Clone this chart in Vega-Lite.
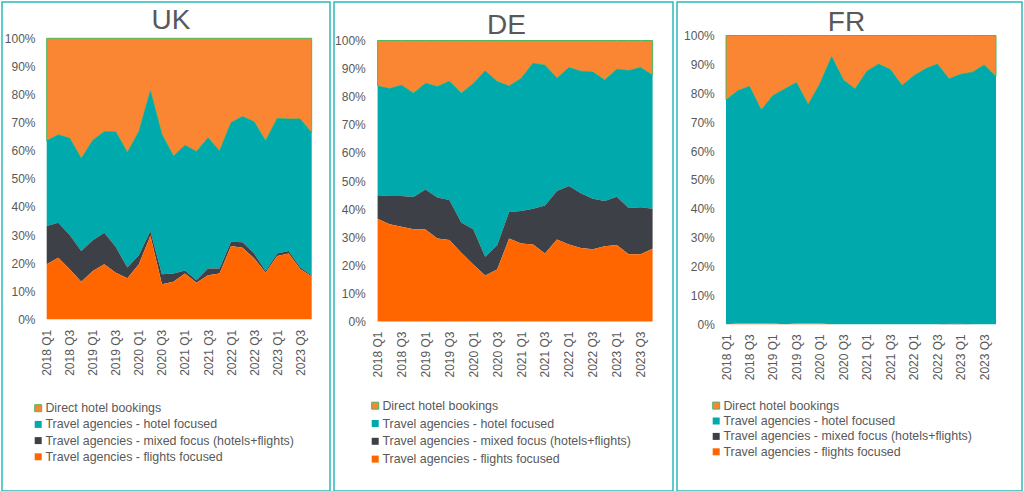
{
  "$schema": "https://vega.github.io/schema/vega-lite/v6.json",
  "background": "white",
  "padding": {"left": 1, "top": 1, "right": 0, "bottom": 0},
  "config": {
    "view": {"stroke": "#2DB8B8", "strokeWidth": 1.5},
    "font": "Liberation Sans",
    "axis": {"grid": false, "ticks": false, "tickSize": 0, "domain": false, "labelFont": "Liberation Sans", "labelFontSize": 12, "labelColor": "#595959", "title": null},
    "title": {"font": "Liberation Sans", "fontSize": 28, "fontWeight": "normal", "color": "#595959", "anchor": "middle", "frame": "group"},
    "legend": {"orient": "none", "title": null, "symbolType": "square", "symbolSize": 49, "symbolStrokeWidth": 1, "labelFont": "Liberation Sans", "labelFontSize": 12.4, "labelColor": "#595959", "labelLimit": 400, "padding": 0, "labelOffset": 1, "rowPadding": 3.2}
  },
  "datasets": {
    "UK": [
      {"quarter":"2018 Q1","series":"Direct hotel bookings","share":36.5},{"quarter":"2018 Q1","series":"Travel agencies - hotel focused","share":30.3},{"quarter":"2018 Q1","series":"Travel agencies - mixed focus (hotels+flights)","share":13.6},{"quarter":"2018 Q1","series":"Travel agencies - flights focused","share":19.6},
      {"quarter":"2018 Q2","series":"Direct hotel bookings","share":34.3},{"quarter":"2018 Q2","series":"Travel agencies - hotel focused","share":31.3},{"quarter":"2018 Q2","series":"Travel agencies - mixed focus (hotels+flights)","share":12.5},{"quarter":"2018 Q2","series":"Travel agencies - flights focused","share":21.9},
      {"quarter":"2018 Q3","series":"Direct hotel bookings","share":35.6},{"quarter":"2018 Q3","series":"Travel agencies - hotel focused","share":34.4},{"quarter":"2018 Q3","series":"Travel agencies - mixed focus (hotels+flights)","share":12.2},{"quarter":"2018 Q3","series":"Travel agencies - flights focused","share":17.8},
      {"quarter":"2018 Q4","series":"Direct hotel bookings","share":42.8},{"quarter":"2018 Q4","series":"Travel agencies - hotel focused","share":32.9},{"quarter":"2018 Q4","series":"Travel agencies - mixed focus (hotels+flights)","share":10.9},{"quarter":"2018 Q4","series":"Travel agencies - flights focused","share":13.4},
      {"quarter":"2019 Q1","series":"Direct hotel bookings","share":36.3},{"quarter":"2019 Q1","series":"Travel agencies - hotel focused","share":35.6},{"quarter":"2019 Q1","series":"Travel agencies - mixed focus (hotels+flights)","share":10.9},{"quarter":"2019 Q1","series":"Travel agencies - flights focused","share":17.2},
      {"quarter":"2019 Q2","series":"Direct hotel bookings","share":33.2},{"quarter":"2019 Q2","series":"Travel agencies - hotel focused","share":36.0},{"quarter":"2019 Q2","series":"Travel agencies - mixed focus (hotels+flights)","share":11.2},{"quarter":"2019 Q2","series":"Travel agencies - flights focused","share":19.6},
      {"quarter":"2019 Q3","series":"Direct hotel bookings","share":33.3},{"quarter":"2019 Q3","series":"Travel agencies - hotel focused","share":41.0},{"quarter":"2019 Q3","series":"Travel agencies - mixed focus (hotels+flights)","share":9.1},{"quarter":"2019 Q3","series":"Travel agencies - flights focused","share":16.6},
      {"quarter":"2019 Q4","series":"Direct hotel bookings","share":40.6},{"quarter":"2019 Q4","series":"Travel agencies - hotel focused","share":41.0},{"quarter":"2019 Q4","series":"Travel agencies - mixed focus (hotels+flights)","share":3.8},{"quarter":"2019 Q4","series":"Travel agencies - flights focused","share":14.6},
      {"quarter":"2020 Q1","series":"Direct hotel bookings","share":33.2},{"quarter":"2020 Q1","series":"Travel agencies - hotel focused","share":44.0},{"quarter":"2020 Q1","series":"Travel agencies - mixed focus (hotels+flights)","share":3.2},{"quarter":"2020 Q1","series":"Travel agencies - flights focused","share":19.6},
      {"quarter":"2020 Q2","series":"Direct hotel bookings","share":18.7},{"quarter":"2020 Q2","series":"Travel agencies - hotel focused","share":49.9},{"quarter":"2020 Q2","series":"Travel agencies - mixed focus (hotels+flights)","share":1.7},{"quarter":"2020 Q2","series":"Travel agencies - flights focused","share":29.7},
      {"quarter":"2020 Q3","series":"Direct hotel bookings","share":34.2},{"quarter":"2020 Q3","series":"Travel agencies - hotel focused","share":49.8},{"quarter":"2020 Q3","series":"Travel agencies - mixed focus (hotels+flights)","share":3.5},{"quarter":"2020 Q3","series":"Travel agencies - flights focused","share":12.5},
      {"quarter":"2020 Q4","series":"Direct hotel bookings","share":41.9},{"quarter":"2020 Q4","series":"Travel agencies - hotel focused","share":41.8},{"quarter":"2020 Q4","series":"Travel agencies - mixed focus (hotels+flights)","share":2.9},{"quarter":"2020 Q4","series":"Travel agencies - flights focused","share":13.4},
      {"quarter":"2021 Q1","series":"Direct hotel bookings","share":38.1},{"quarter":"2021 Q1","series":"Travel agencies - hotel focused","share":44.5},{"quarter":"2021 Q1","series":"Travel agencies - mixed focus (hotels+flights)","share":1.1},{"quarter":"2021 Q1","series":"Travel agencies - flights focused","share":16.3},
      {"quarter":"2021 Q2","series":"Direct hotel bookings","share":40.3},{"quarter":"2021 Q2","series":"Travel agencies - hotel focused","share":45.8},{"quarter":"2021 Q2","series":"Travel agencies - mixed focus (hotels+flights)","share":0.9},{"quarter":"2021 Q2","series":"Travel agencies - flights focused","share":13.0},
      {"quarter":"2021 Q3","series":"Direct hotel bookings","share":35.4},{"quarter":"2021 Q3","series":"Travel agencies - hotel focused","share":46.5},{"quarter":"2021 Q3","series":"Travel agencies - mixed focus (hotels+flights)","share":2.4},{"quarter":"2021 Q3","series":"Travel agencies - flights focused","share":15.7},
      {"quarter":"2021 Q4","series":"Direct hotel bookings","share":40.1},{"quarter":"2021 Q4","series":"Travel agencies - hotel focused","share":41.8},{"quarter":"2021 Q4","series":"Travel agencies - mixed focus (hotels+flights)","share":1.8},{"quarter":"2021 Q4","series":"Travel agencies - flights focused","share":16.3},
      {"quarter":"2022 Q1","series":"Direct hotel bookings","share":30.0},{"quarter":"2022 Q1","series":"Travel agencies - hotel focused","share":42.4},{"quarter":"2022 Q1","series":"Travel agencies - mixed focus (hotels+flights)","share":1.5},{"quarter":"2022 Q1","series":"Travel agencies - flights focused","share":26.1},
      {"quarter":"2022 Q2","series":"Direct hotel bookings","share":27.8},{"quarter":"2022 Q2","series":"Travel agencies - hotel focused","share":44.8},{"quarter":"2022 Q2","series":"Travel agencies - mixed focus (hotels+flights)","share":1.9},{"quarter":"2022 Q2","series":"Travel agencies - flights focused","share":25.5},
      {"quarter":"2022 Q3","series":"Direct hotel bookings","share":29.7},{"quarter":"2022 Q3","series":"Travel agencies - hotel focused","share":46.9},{"quarter":"2022 Q3","series":"Travel agencies - mixed focus (hotels+flights)","share":1.7},{"quarter":"2022 Q3","series":"Travel agencies - flights focused","share":21.7},
      {"quarter":"2022 Q4","series":"Direct hotel bookings","share":36.5},{"quarter":"2022 Q4","series":"Travel agencies - hotel focused","share":46.3},{"quarter":"2022 Q4","series":"Travel agencies - mixed focus (hotels+flights)","share":0.6},{"quarter":"2022 Q4","series":"Travel agencies - flights focused","share":16.6},
      {"quarter":"2023 Q1","series":"Direct hotel bookings","share":28.5},{"quarter":"2023 Q1","series":"Travel agencies - hotel focused","share":48.1},{"quarter":"2023 Q1","series":"Travel agencies - mixed focus (hotels+flights)","share":0.9},{"quarter":"2023 Q1","series":"Travel agencies - flights focused","share":22.5},
      {"quarter":"2023 Q2","series":"Direct hotel bookings","share":28.7},{"quarter":"2023 Q2","series":"Travel agencies - hotel focused","share":47.0},{"quarter":"2023 Q2","series":"Travel agencies - mixed focus (hotels+flights)","share":0.9},{"quarter":"2023 Q2","series":"Travel agencies - flights focused","share":23.4},
      {"quarter":"2023 Q3","series":"Direct hotel bookings","share":28.7},{"quarter":"2023 Q3","series":"Travel agencies - hotel focused","share":52.8},{"quarter":"2023 Q3","series":"Travel agencies - mixed focus (hotels+flights)","share":0.6},{"quarter":"2023 Q3","series":"Travel agencies - flights focused","share":17.9},
      {"quarter":"2023 Q4","series":"Direct hotel bookings","share":33.6},{"quarter":"2023 Q4","series":"Travel agencies - hotel focused","share":50.8},{"quarter":"2023 Q4","series":"Travel agencies - mixed focus (hotels+flights)","share":0.4},{"quarter":"2023 Q4","series":"Travel agencies - flights focused","share":15.2}
    ],
    "DE": [
      {"quarter":"2018 Q1","series":"Direct hotel bookings","share":16.2},{"quarter":"2018 Q1","series":"Travel agencies - hotel focused","share":38.9},{"quarter":"2018 Q1","series":"Travel agencies - mixed focus (hotels+flights)","share":8.3},{"quarter":"2018 Q1","series":"Travel agencies - flights focused","share":36.6},
      {"quarter":"2018 Q2","series":"Direct hotel bookings","share":17.1},{"quarter":"2018 Q2","series":"Travel agencies - hotel focused","share":38.2},{"quarter":"2018 Q2","series":"Travel agencies - mixed focus (hotels+flights)","share":10.1},{"quarter":"2018 Q2","series":"Travel agencies - flights focused","share":34.6},
      {"quarter":"2018 Q3","series":"Direct hotel bookings","share":15.9},{"quarter":"2018 Q3","series":"Travel agencies - hotel focused","share":39.4},{"quarter":"2018 Q3","series":"Travel agencies - mixed focus (hotels+flights)","share":11.0},{"quarter":"2018 Q3","series":"Travel agencies - flights focused","share":33.7},
      {"quarter":"2018 Q4","series":"Direct hotel bookings","share":18.8},{"quarter":"2018 Q4","series":"Travel agencies - hotel focused","share":36.9},{"quarter":"2018 Q4","series":"Travel agencies - mixed focus (hotels+flights)","share":11.5},{"quarter":"2018 Q4","series":"Travel agencies - flights focused","share":32.8},
      {"quarter":"2019 Q1","series":"Direct hotel bookings","share":15.2},{"quarter":"2019 Q1","series":"Travel agencies - hotel focused","share":37.8},{"quarter":"2019 Q1","series":"Travel agencies - mixed focus (hotels+flights)","share":14.3},{"quarter":"2019 Q1","series":"Travel agencies - flights focused","share":32.7},
      {"quarter":"2019 Q2","series":"Direct hotel bookings","share":16.4},{"quarter":"2019 Q2","series":"Travel agencies - hotel focused","share":39.5},{"quarter":"2019 Q2","series":"Travel agencies - mixed focus (hotels+flights)","share":14.6},{"quarter":"2019 Q2","series":"Travel agencies - flights focused","share":29.5},
      {"quarter":"2019 Q3","series":"Direct hotel bookings","share":14.5},{"quarter":"2019 Q3","series":"Travel agencies - hotel focused","share":42.3},{"quarter":"2019 Q3","series":"Travel agencies - mixed focus (hotels+flights)","share":14.2},{"quarter":"2019 Q3","series":"Travel agencies - flights focused","share":29.0},
      {"quarter":"2019 Q4","series":"Direct hotel bookings","share":18.8},{"quarter":"2019 Q4","series":"Travel agencies - hotel focused","share":46.0},{"quarter":"2019 Q4","series":"Travel agencies - mixed focus (hotels+flights)","share":10.7},{"quarter":"2019 Q4","series":"Travel agencies - flights focused","share":24.5},
      {"quarter":"2020 Q1","series":"Direct hotel bookings","share":15.3},{"quarter":"2020 Q1","series":"Travel agencies - hotel focused","share":51.9},{"quarter":"2020 Q1","series":"Travel agencies - mixed focus (hotels+flights)","share":12.5},{"quarter":"2020 Q1","series":"Travel agencies - flights focused","share":20.3},
      {"quarter":"2020 Q2","series":"Direct hotel bookings","share":10.8},{"quarter":"2020 Q2","series":"Travel agencies - hotel focused","share":66.2},{"quarter":"2020 Q2","series":"Travel agencies - mixed focus (hotels+flights)","share":6.6},{"quarter":"2020 Q2","series":"Travel agencies - flights focused","share":16.4},
      {"quarter":"2020 Q3","series":"Direct hotel bookings","share":14.6},{"quarter":"2020 Q3","series":"Travel agencies - hotel focused","share":58.3},{"quarter":"2020 Q3","series":"Travel agencies - mixed focus (hotels+flights)","share":8.6},{"quarter":"2020 Q3","series":"Travel agencies - flights focused","share":18.5},
      {"quarter":"2020 Q4","series":"Direct hotel bookings","share":16.2},{"quarter":"2020 Q4","series":"Travel agencies - hotel focused","share":44.8},{"quarter":"2020 Q4","series":"Travel agencies - mixed focus (hotels+flights)","share":9.5},{"quarter":"2020 Q4","series":"Travel agencies - flights focused","share":29.5},
      {"quarter":"2021 Q1","series":"Direct hotel bookings","share":13.5},{"quarter":"2021 Q1","series":"Travel agencies - hotel focused","share":47.2},{"quarter":"2021 Q1","series":"Travel agencies - mixed focus (hotels+flights)","share":11.5},{"quarter":"2021 Q1","series":"Travel agencies - flights focused","share":27.8},
      {"quarter":"2021 Q2","series":"Direct hotel bookings","share":8.1},{"quarter":"2021 Q2","series":"Travel agencies - hotel focused","share":51.8},{"quarter":"2021 Q2","series":"Travel agencies - mixed focus (hotels+flights)","share":12.7},{"quarter":"2021 Q2","series":"Travel agencies - flights focused","share":27.4},
      {"quarter":"2021 Q3","series":"Direct hotel bookings","share":8.8},{"quarter":"2021 Q3","series":"Travel agencies - hotel focused","share":49.9},{"quarter":"2021 Q3","series":"Travel agencies - mixed focus (hotels+flights)","share":17.1},{"quarter":"2021 Q3","series":"Travel agencies - flights focused","share":24.2},
      {"quarter":"2021 Q4","series":"Direct hotel bookings","share":13.4},{"quarter":"2021 Q4","series":"Travel agencies - hotel focused","share":40.2},{"quarter":"2021 Q4","series":"Travel agencies - mixed focus (hotels+flights)","share":17.2},{"quarter":"2021 Q4","series":"Travel agencies - flights focused","share":29.2},
      {"quarter":"2022 Q1","series":"Direct hotel bookings","share":9.6},{"quarter":"2022 Q1","series":"Travel agencies - hotel focused","share":42.2},{"quarter":"2022 Q1","series":"Travel agencies - mixed focus (hotels+flights)","share":20.8},{"quarter":"2022 Q1","series":"Travel agencies - flights focused","share":27.4},
      {"quarter":"2022 Q2","series":"Direct hotel bookings","share":10.9},{"quarter":"2022 Q2","series":"Travel agencies - hotel focused","share":43.5},{"quarter":"2022 Q2","series":"Travel agencies - mixed focus (hotels+flights)","share":19.4},{"quarter":"2022 Q2","series":"Travel agencies - flights focused","share":26.2},
      {"quarter":"2022 Q3","series":"Direct hotel bookings","share":11.2},{"quarter":"2022 Q3","series":"Travel agencies - hotel focused","share":45.1},{"quarter":"2022 Q3","series":"Travel agencies - mixed focus (hotels+flights)","share":18.0},{"quarter":"2022 Q3","series":"Travel agencies - flights focused","share":25.7},
      {"quarter":"2022 Q4","series":"Direct hotel bookings","share":14.1},{"quarter":"2022 Q4","series":"Travel agencies - hotel focused","share":43.0},{"quarter":"2022 Q4","series":"Travel agencies - mixed focus (hotels+flights)","share":16.1},{"quarter":"2022 Q4","series":"Travel agencies - flights focused","share":26.8},
      {"quarter":"2023 Q1","series":"Direct hotel bookings","share":10.2},{"quarter":"2023 Q1","series":"Travel agencies - hotel focused","share":45.4},{"quarter":"2023 Q1","series":"Travel agencies - mixed focus (hotels+flights)","share":17.2},{"quarter":"2023 Q1","series":"Travel agencies - flights focused","share":27.2},
      {"quarter":"2023 Q2","series":"Direct hotel bookings","share":10.7},{"quarter":"2023 Q2","series":"Travel agencies - hotel focused","share":48.9},{"quarter":"2023 Q2","series":"Travel agencies - mixed focus (hotels+flights)","share":16.5},{"quarter":"2023 Q2","series":"Travel agencies - flights focused","share":23.9},
      {"quarter":"2023 Q3","series":"Direct hotel bookings","share":9.6},{"quarter":"2023 Q3","series":"Travel agencies - hotel focused","share":49.7},{"quarter":"2023 Q3","series":"Travel agencies - mixed focus (hotels+flights)","share":16.8},{"quarter":"2023 Q3","series":"Travel agencies - flights focused","share":23.9},
      {"quarter":"2023 Q4","series":"Direct hotel bookings","share":12.4},{"quarter":"2023 Q4","series":"Travel agencies - hotel focused","share":47.5},{"quarter":"2023 Q4","series":"Travel agencies - mixed focus (hotels+flights)","share":14.2},{"quarter":"2023 Q4","series":"Travel agencies - flights focused","share":25.9}
    ],
    "FR": [
      {"quarter":"2018 Q1","series":"Direct hotel bookings","share":22.3},{"quarter":"2018 Q1","series":"Travel agencies - hotel focused","share":77.7},{"quarter":"2018 Q1","series":"Travel agencies - mixed focus (hotels+flights)","share":0},{"quarter":"2018 Q1","series":"Travel agencies - flights focused","share":0},
      {"quarter":"2018 Q2","series":"Direct hotel bookings","share":19.1},{"quarter":"2018 Q2","series":"Travel agencies - hotel focused","share":80.6},{"quarter":"2018 Q2","series":"Travel agencies - mixed focus (hotels+flights)","share":0},{"quarter":"2018 Q2","series":"Travel agencies - flights focused","share":0.3},
      {"quarter":"2018 Q3","series":"Direct hotel bookings","share":17.6},{"quarter":"2018 Q3","series":"Travel agencies - hotel focused","share":82.1},{"quarter":"2018 Q3","series":"Travel agencies - mixed focus (hotels+flights)","share":0},{"quarter":"2018 Q3","series":"Travel agencies - flights focused","share":0.3},
      {"quarter":"2018 Q4","series":"Direct hotel bookings","share":25.8},{"quarter":"2018 Q4","series":"Travel agencies - hotel focused","share":73.9},{"quarter":"2018 Q4","series":"Travel agencies - mixed focus (hotels+flights)","share":0},{"quarter":"2018 Q4","series":"Travel agencies - flights focused","share":0.3},
      {"quarter":"2019 Q1","series":"Direct hotel bookings","share":20.8},{"quarter":"2019 Q1","series":"Travel agencies - hotel focused","share":78.9},{"quarter":"2019 Q1","series":"Travel agencies - mixed focus (hotels+flights)","share":0},{"quarter":"2019 Q1","series":"Travel agencies - flights focused","share":0.3},
      {"quarter":"2019 Q2","series":"Direct hotel bookings","share":18.5},{"quarter":"2019 Q2","series":"Travel agencies - hotel focused","share":81.5},{"quarter":"2019 Q2","series":"Travel agencies - mixed focus (hotels+flights)","share":0},{"quarter":"2019 Q2","series":"Travel agencies - flights focused","share":0},
      {"quarter":"2019 Q3","series":"Direct hotel bookings","share":16.3},{"quarter":"2019 Q3","series":"Travel agencies - hotel focused","share":83.4},{"quarter":"2019 Q3","series":"Travel agencies - mixed focus (hotels+flights)","share":0},{"quarter":"2019 Q3","series":"Travel agencies - flights focused","share":0.3},
      {"quarter":"2019 Q4","series":"Direct hotel bookings","share":23.9},{"quarter":"2019 Q4","series":"Travel agencies - hotel focused","share":75.8},{"quarter":"2019 Q4","series":"Travel agencies - mixed focus (hotels+flights)","share":0},{"quarter":"2019 Q4","series":"Travel agencies - flights focused","share":0.3},
      {"quarter":"2020 Q1","series":"Direct hotel bookings","share":16.7},{"quarter":"2020 Q1","series":"Travel agencies - hotel focused","share":83.0},{"quarter":"2020 Q1","series":"Travel agencies - mixed focus (hotels+flights)","share":0},{"quarter":"2020 Q1","series":"Travel agencies - flights focused","share":0.3},
      {"quarter":"2020 Q2","series":"Direct hotel bookings","share":7.3},{"quarter":"2020 Q2","series":"Travel agencies - hotel focused","share":92.7},{"quarter":"2020 Q2","series":"Travel agencies - mixed focus (hotels+flights)","share":0},{"quarter":"2020 Q2","series":"Travel agencies - flights focused","share":0},
      {"quarter":"2020 Q3","series":"Direct hotel bookings","share":15.4},{"quarter":"2020 Q3","series":"Travel agencies - hotel focused","share":84.6},{"quarter":"2020 Q3","series":"Travel agencies - mixed focus (hotels+flights)","share":0},{"quarter":"2020 Q3","series":"Travel agencies - flights focused","share":0},
      {"quarter":"2020 Q4","series":"Direct hotel bookings","share":18.5},{"quarter":"2020 Q4","series":"Travel agencies - hotel focused","share":81.5},{"quarter":"2020 Q4","series":"Travel agencies - mixed focus (hotels+flights)","share":0},{"quarter":"2020 Q4","series":"Travel agencies - flights focused","share":0},
      {"quarter":"2021 Q1","series":"Direct hotel bookings","share":12.4},{"quarter":"2021 Q1","series":"Travel agencies - hotel focused","share":87.6},{"quarter":"2021 Q1","series":"Travel agencies - mixed focus (hotels+flights)","share":0},{"quarter":"2021 Q1","series":"Travel agencies - flights focused","share":0},
      {"quarter":"2021 Q2","series":"Direct hotel bookings","share":9.9},{"quarter":"2021 Q2","series":"Travel agencies - hotel focused","share":90.1},{"quarter":"2021 Q2","series":"Travel agencies - mixed focus (hotels+flights)","share":0},{"quarter":"2021 Q2","series":"Travel agencies - flights focused","share":0},
      {"quarter":"2021 Q3","series":"Direct hotel bookings","share":11.8},{"quarter":"2021 Q3","series":"Travel agencies - hotel focused","share":88.2},{"quarter":"2021 Q3","series":"Travel agencies - mixed focus (hotels+flights)","share":0},{"quarter":"2021 Q3","series":"Travel agencies - flights focused","share":0},
      {"quarter":"2021 Q4","series":"Direct hotel bookings","share":17.3},{"quarter":"2021 Q4","series":"Travel agencies - hotel focused","share":82.7},{"quarter":"2021 Q4","series":"Travel agencies - mixed focus (hotels+flights)","share":0},{"quarter":"2021 Q4","series":"Travel agencies - flights focused","share":0},
      {"quarter":"2022 Q1","series":"Direct hotel bookings","share":13.9},{"quarter":"2022 Q1","series":"Travel agencies - hotel focused","share":86.1},{"quarter":"2022 Q1","series":"Travel agencies - mixed focus (hotels+flights)","share":0},{"quarter":"2022 Q1","series":"Travel agencies - flights focused","share":0},
      {"quarter":"2022 Q2","series":"Direct hotel bookings","share":11.5},{"quarter":"2022 Q2","series":"Travel agencies - hotel focused","share":88.5},{"quarter":"2022 Q2","series":"Travel agencies - mixed focus (hotels+flights)","share":0},{"quarter":"2022 Q2","series":"Travel agencies - flights focused","share":0},
      {"quarter":"2022 Q3","series":"Direct hotel bookings","share":9.9},{"quarter":"2022 Q3","series":"Travel agencies - hotel focused","share":90.1},{"quarter":"2022 Q3","series":"Travel agencies - mixed focus (hotels+flights)","share":0},{"quarter":"2022 Q3","series":"Travel agencies - flights focused","share":0},
      {"quarter":"2022 Q4","series":"Direct hotel bookings","share":15.0},{"quarter":"2022 Q4","series":"Travel agencies - hotel focused","share":84.8},{"quarter":"2022 Q4","series":"Travel agencies - mixed focus (hotels+flights)","share":0.2},{"quarter":"2022 Q4","series":"Travel agencies - flights focused","share":0},
      {"quarter":"2023 Q1","series":"Direct hotel bookings","share":13.4},{"quarter":"2023 Q1","series":"Travel agencies - hotel focused","share":86.4},{"quarter":"2023 Q1","series":"Travel agencies - mixed focus (hotels+flights)","share":0.2},{"quarter":"2023 Q1","series":"Travel agencies - flights focused","share":0},
      {"quarter":"2023 Q2","series":"Direct hotel bookings","share":12.7},{"quarter":"2023 Q2","series":"Travel agencies - hotel focused","share":87.3},{"quarter":"2023 Q2","series":"Travel agencies - mixed focus (hotels+flights)","share":0},{"quarter":"2023 Q2","series":"Travel agencies - flights focused","share":0},
      {"quarter":"2023 Q3","series":"Direct hotel bookings","share":10.2},{"quarter":"2023 Q3","series":"Travel agencies - hotel focused","share":89.8},{"quarter":"2023 Q3","series":"Travel agencies - mixed focus (hotels+flights)","share":0},{"quarter":"2023 Q3","series":"Travel agencies - flights focused","share":0},
      {"quarter":"2023 Q4","series":"Direct hotel bookings","share":14.2},{"quarter":"2023 Q4","series":"Travel agencies - hotel focused","share":85.8},{"quarter":"2023 Q4","series":"Travel agencies - mixed focus (hotels+flights)","share":0},{"quarter":"2023 Q4","series":"Travel agencies - flights focused","share":0}
    ]
  },
  "hconcat": [
    {
      "width": 328, "height": 489,
      "data": {"name": "UK"},
      "transform": [{"calculate": "indexof(['Travel agencies - flights focused','Travel agencies - mixed focus (hotels+flights)','Travel agencies - hotel focused','Direct hotel bookings'], datum.series)", "as": "stack_rank"}],
      "title": {"text": "UK", "dx": 5, "offset": -33},
      "mark": {"type": "area", "strokeWidth": 1, "opacity": 1},
      "encoding": {
        "x": {"field": "quarter", "type": "ordinal", "sort": null, "scale": {"type": "point", "padding": 0, "range": [44.7, 309.7]},
              "axis": {"values": ["2018 Q1","2018 Q3","2019 Q1","2019 Q3","2020 Q1","2020 Q3","2021 Q1","2021 Q3","2022 Q1","2022 Q3","2023 Q1","2023 Q3"], "labelAngle": -90, "offset": -171.7, "labelPadding": 10}},
        "y": {"field": "share", "type": "quantitative", "stack": "zero", "scale": {"domain": [0, 100], "range": [317.3, 36.3], "nice": false, "zero": false},
              "axis": {"values": [0,10,20,30,40,50,60,70,80,90,100], "labelExpr": "datum.value + '%'", "offset": -37, "labelPadding": 4}},
        "order": {"field": "stack_rank", "type": "quantitative", "sort": "ascending"},
        "color": {"field": "series", "type": "nominal", "sort": ["Direct hotel bookings","Travel agencies - hotel focused","Travel agencies - mixed focus (hotels+flights)","Travel agencies - flights focused"],
                  "scale": {"domain": ["Direct hotel bookings","Travel agencies - hotel focused","Travel agencies - mixed focus (hotels+flights)","Travel agencies - flights focused"], "range": ["#FA8633","#00A9AB","#3D4047","#FF6600"]},
                  "legend": {"legendX": 30, "legendY": 400, "rowPadding": 3.2}},
        "stroke": {"field": "series", "type": "nominal", "sort": ["Direct hotel bookings","Travel agencies - hotel focused","Travel agencies - mixed focus (hotels+flights)","Travel agencies - flights focused"],
                  "scale": {"domain": ["Direct hotel bookings","Travel agencies - hotel focused","Travel agencies - mixed focus (hotels+flights)","Travel agencies - flights focused"], "range": ["#4DB85F","transparent","transparent","transparent"]},
                  "legend": {"legendX": 30, "legendY": 400, "rowPadding": 3.2}}
      }
    },
    {
      "width": 339, "height": 489,
      "data": {"name": "DE"},
      "transform": [{"calculate": "indexof(['Travel agencies - flights focused','Travel agencies - mixed focus (hotels+flights)','Travel agencies - hotel focused','Direct hotel bookings'], datum.series)", "as": "stack_rank"}],
      "title": {"text": "DE", "dx": 3, "offset": -38},
      "mark": {"type": "area", "strokeWidth": 1, "opacity": 1},
      "encoding": {
        "x": {"field": "quarter", "type": "ordinal", "sort": null, "scale": {"type": "point", "padding": 0, "range": [43.6, 318.6]},
              "axis": {"values": ["2018 Q1","2018 Q3","2019 Q1","2019 Q3","2020 Q1","2020 Q3","2021 Q1","2021 Q3","2022 Q1","2022 Q3","2023 Q1","2023 Q3"], "labelAngle": -90, "offset": -169.5, "labelPadding": 9.5}},
        "y": {"field": "share", "type": "quantitative", "stack": "zero", "scale": {"domain": [0, 100], "range": [319.5, 38.5], "nice": false, "zero": false},
              "axis": {"values": [0,10,20,30,40,50,60,70,80,90,100], "labelExpr": "datum.value + '%'", "offset": -35.3, "labelPadding": 4}},
        "order": {"field": "stack_rank", "type": "quantitative", "sort": "ascending"},
        "color": {"field": "series", "type": "nominal", "sort": ["Direct hotel bookings","Travel agencies - hotel focused","Travel agencies - mixed focus (hotels+flights)","Travel agencies - flights focused"],
                  "scale": {"domain": ["Direct hotel bookings","Travel agencies - hotel focused","Travel agencies - mixed focus (hotels+flights)","Travel agencies - flights focused"], "range": ["#FA8633","#00A9AB","#3D4047","#FF6600"]},
                  "legend": {"legendX": 35, "legendY": 397.5, "rowPadding": 4.8}},
        "stroke": {"field": "series", "type": "nominal", "sort": ["Direct hotel bookings","Travel agencies - hotel focused","Travel agencies - mixed focus (hotels+flights)","Travel agencies - flights focused"],
                  "scale": {"domain": ["Direct hotel bookings","Travel agencies - hotel focused","Travel agencies - mixed focus (hotels+flights)","Travel agencies - flights focused"], "range": ["#4DB85F","transparent","transparent","transparent"]},
                  "legend": {"legendX": 35, "legendY": 397.5, "rowPadding": 4.8}}
      }
    },
    {
      "width": 345, "height": 489,
      "data": {"name": "FR"},
      "transform": [{"calculate": "indexof(['Travel agencies - flights focused','Travel agencies - mixed focus (hotels+flights)','Travel agencies - hotel focused','Direct hotel bookings'], datum.series)", "as": "stack_rank"}],
      "title": {"text": "FR", "dx": -3, "offset": -34.5},
      "mark": {"type": "area", "strokeWidth": 1, "opacity": 1},
      "encoding": {
        "x": {"field": "quarter", "type": "ordinal", "sort": null, "scale": {"type": "point", "padding": 0, "range": [49, 319]},
              "axis": {"values": ["2018 Q1","2018 Q3","2019 Q1","2019 Q3","2020 Q1","2020 Q3","2021 Q1","2021 Q3","2022 Q1","2022 Q3","2023 Q1","2023 Q3"], "labelAngle": -90, "offset": -166.7, "labelPadding": 9.4}},
        "y": {"field": "share", "type": "quantitative", "stack": "zero", "scale": {"domain": [0, 100], "range": [322.3, 33.5], "nice": false, "zero": false},
              "axis": {"values": [0,10,20,30,40,50,60,70,80,90,100], "labelExpr": "datum.value + '%'", "offset": -41.3, "labelPadding": 4}},
        "order": {"field": "stack_rank", "type": "quantitative", "sort": "ascending"},
        "color": {"field": "series", "type": "nominal", "sort": ["Direct hotel bookings","Travel agencies - hotel focused","Travel agencies - mixed focus (hotels+flights)","Travel agencies - flights focused"],
                  "scale": {"domain": ["Direct hotel bookings","Travel agencies - hotel focused","Travel agencies - mixed focus (hotels+flights)","Travel agencies - flights focused"], "range": ["#FA8633","#00A9AB","#3D4047","#FF6600"]},
                  "legend": {"legendX": 33, "legendY": 397.4, "rowPadding": 2.4}},
        "stroke": {"field": "series", "type": "nominal", "sort": ["Direct hotel bookings","Travel agencies - hotel focused","Travel agencies - mixed focus (hotels+flights)","Travel agencies - flights focused"],
                  "scale": {"domain": ["Direct hotel bookings","Travel agencies - hotel focused","Travel agencies - mixed focus (hotels+flights)","Travel agencies - flights focused"], "range": ["#4DB85F","transparent","transparent","transparent"]},
                  "legend": {"legendX": 33, "legendY": 397.4, "rowPadding": 2.4}}
      }
    }
  ],
  "spacing": 4,
  "bounds": "flush",
  "resolve": {"scale": {"x": "independent", "y": "independent", "color": "independent", "stroke": "independent"}, "legend": {"color": "independent", "stroke": "independent"}, "axis": {"x": "independent", "y": "independent"}}
}
